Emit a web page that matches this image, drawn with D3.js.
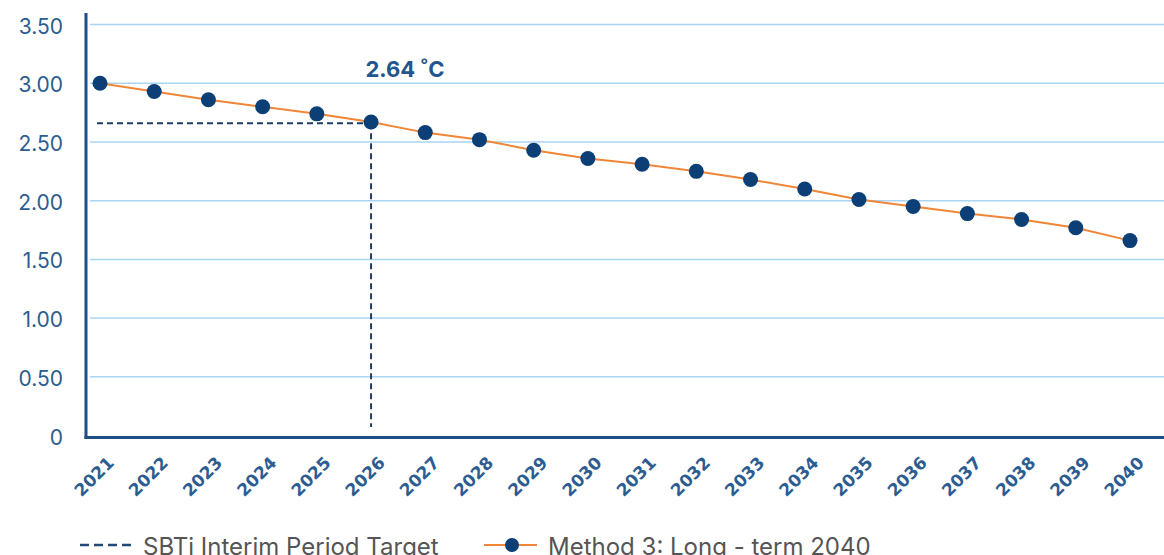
<!DOCTYPE html>
<html><head><meta charset="utf-8">
<script src="https://cdn.jsdelivr.net/npm/d3@7"></script>
<style>body{margin:0;background:#fff}svg{display:block}</style>
</head><body>
<svg id="c" width="1164" height="555"></svg>
<script>
const years = ["2021","2022","2023","2024","2025","2026","2027","2028","2029","2030","2031","2032","2033","2034","2035","2036","2037","2038","2039","2040"];
const method3 = [3.00,2.93,2.86,2.80,2.74,2.67,2.58,2.52,2.43,2.36,2.31,2.25,2.18,2.10,2.01,1.95,1.89,1.84,1.77,1.66];
const yTicks = [0,0.5,1,1.5,2,2.5,3,3.5];
const yTickLabels = ["0","0.50","1.00","1.50","2.00","2.50","3.00","3.50"];
const targetYear = "2026";
const targetValue = 2.66;
const targetLabel = "2.64 ˚C";
const legendLabels = ["SBTi Interim Period Target","Method 3: Long - term 2040"];

const svg = d3.select("#c");
const x = d3.scalePoint().domain(years).range([100,1130]);
const y = d3.scaleLinear().domain([0,3.5]).range([435.5,24.6]);
const navy = "#0b3f76", axisC = "#1d4f86", grid = "#a9d5f2", txt = "#2d5d90";
const font = "Inter, 'DejaVu Sans', sans-serif";

// gridlines
svg.append("g").selectAll("line").data(yTicks.filter(d=>d>0)).join("line")
  .attr("x1",90).attr("x2",1164).attr("y1",d=>y(d)).attr("y2",d=>y(d))
  .attr("stroke",grid).attr("stroke-width",1.5);

// y labels
svg.append("g").selectAll("text").data(yTicks).join("text")
  .attr("x",63).attr("y",d=>y(d)+9).attr("text-anchor","end")
  .attr("font-family",font).attr("font-size",21).attr("fill",txt)
  .text((d,i)=>yTickLabels[i]);

// axes lines
svg.append("line").attr("x1",86).attr("x2",86).attr("y1",13).attr("y2",y(0)+3.5)
  .attr("stroke",axisC).attr("stroke-width",3);
svg.append("line").attr("x1",84.5).attr("x2",1164).attr("y1",y(0)+2).attr("y2",y(0)+2)
  .attr("stroke",axisC).attr("stroke-width",3);

// x labels
svg.append("g").selectAll("text").data(years).join("text")
  .attr("transform",d=>`translate(${x(d)+15},${464}) rotate(-45)`)
  .attr("text-anchor","end").attr("font-family","'DejaVu Sans', sans-serif").attr("font-weight",700)
  .attr("font-size",17).attr("fill",txt).text(d=>d);

// target dashed lines
const tx = x(targetYear), ty = y(targetValue);
svg.append("line").attr("x1",97).attr("x2",tx).attr("y1",ty).attr("y2",ty)
  .attr("stroke","#1f3d66").attr("stroke-width",2).attr("stroke-dasharray","6,4");
svg.append("line").attr("x1",tx).attr("x2",tx).attr("y1",ty).attr("y2",427)
  .attr("stroke","#1f3d66").attr("stroke-width",2).attr("stroke-dasharray","6,4");

// line
svg.append("path").datum(years.map((d,i)=>[x(d),y(method3[i])]))
  .attr("d",d3.line()).attr("fill","none").attr("stroke","#ef8638").attr("stroke-width",2);
svg.append("g").selectAll("circle").data(years).join("circle")
  .attr("cx",d=>x(d)).attr("cy",(d,i)=>y(method3[i])).attr("r",7.5).attr("fill",navy);

// annotation
svg.append("text").attr("x",405).attr("y",77).attr("text-anchor","middle")
  .attr("font-family",font).attr("font-weight",700).attr("font-size",22).attr("fill","#24558c")
  .text(targetLabel);

// legend
svg.append("line").attr("x1",80).attr("x2",134).attr("y1",545).attr("y2",545)
  .attr("stroke","#1f4a78").attr("stroke-width",2.5).attr("stroke-dasharray","9,5");
svg.append("text").attr("x",143).attr("y",555).attr("font-family",font).attr("font-size",24)
  .attr("fill","#555").text(legendLabels[0]);
svg.append("line").attr("x1",484).attr("x2",537).attr("y1",545).attr("y2",545)
  .attr("stroke","#ef8638").attr("stroke-width",2);
svg.append("circle").attr("cx",512).attr("cy",545).attr("r",7).attr("fill",navy);
svg.append("text").attr("x",548).attr("y",555).attr("font-family",font).attr("font-size",24)
  .attr("fill","#555").text(legendLabels[1]);
</script>
</body></html>
